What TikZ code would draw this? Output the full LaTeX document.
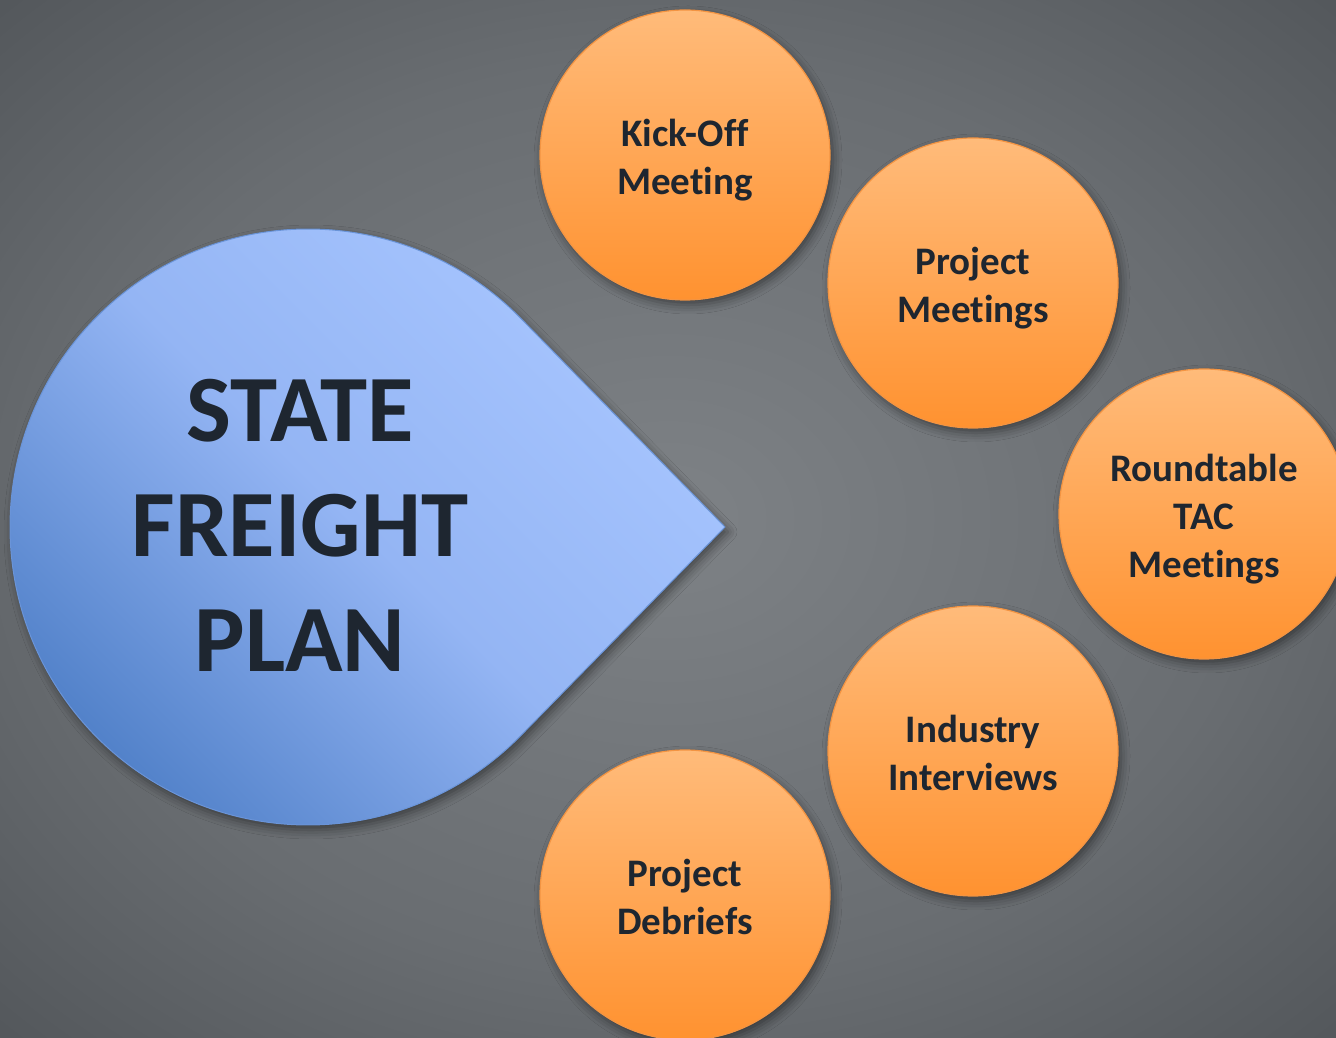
\documentclass[tikz,border=0pt]{standalone}
\usepackage{fontspec}
\setmainfont{Carlito}[Ligatures=NoCommon]
\usetikzlibrary{shadows.blur}
\definecolor{txt}{HTML}{1E2630}
\definecolor{bgc}{HTML}{7E8286}
\definecolor{bgm}{HTML}{696D71}
\definecolor{bge}{HTML}{3C4044}
\definecolor{orTop}{HTML}{FFBB7A}
\definecolor{orBot}{HTML}{FF9230}
\definecolor{orLine}{HTML}{F39442}
\definecolor{blLight}{HTML}{A8C6FF}
\definecolor{blMid}{HTML}{94B5F4}
\definecolor{blDark}{HTML}{5080C8}
\definecolor{blLine}{HTML}{6A94D8}
\pgfdeclareradialshading{bgshade}{\pgfpoint{0bp}{0bp}}{color(0bp)=(bgc); color(22bp)=(bgm); color(50bp)=(bge)}
\newcommand{\btxt}[1]{\raisebox{-6pt}[\height][\depth]{\begin{tabular}{@{}c@{}}#1\end{tabular}}}
\begin{document}
\begin{tikzpicture}[x=1pt,y=1pt,
  bubble/.style={circle, minimum size=290pt, inner sep=0pt,
    top color=orTop, bottom color=orBot, draw=orLine, line width=1.2pt,
    font=\bfseries\fontsize{39}{48}\selectfont, text=txt, align=center,
    blur shadow={shadow xshift=3pt, shadow yshift=-5pt, shadow blur radius=9pt, shadow opacity=45}},
  drop/.style={top color=blLight, bottom color=blDark, middle color=blMid, shading angle=-45,
    draw=blLine, line width=1pt,
    blur shadow={shadow xshift=3pt, shadow yshift=-5pt, shadow blur radius=9pt, shadow opacity=45}},
  bigtext/.style={font=\bfseries\fontsize{95}{115}\selectfont, text=txt, align=center}]
\shade[shading=bgshade] (0,0) rectangle (1336,1037);
\useasboundingbox (0,0) rectangle (1336,1037);
\coordinate (tc) at (308,510);
\coordinate (tip) at (725,510);
\path[drop] (tip) -- ([shift={(44.5:298pt)}]tc) arc[start angle=44.5, end angle=315.5, radius=298pt] -- cycle;
\node[bigtext] (sfp) at (300,512) {STATE\\FREIGHT\\PLAN};
\node[bubble] (kick) at (685,882) {\btxt{Kick-Off\\Meeting}};
\node[bubble] (pm) at (973,754) {\btxt{Project\\Meetings}};
\node[bubble] (rt) at (1204,523) {\btxt{Roundtable\\TAC\\Meetings}};
\node[bubble] (ii) at (973,286) {\btxt{Industry\\Interviews}};
\node[bubble] (pd) at (685,142) {\btxt{Project\\Debriefs}};
\end{tikzpicture}
\end{document}
